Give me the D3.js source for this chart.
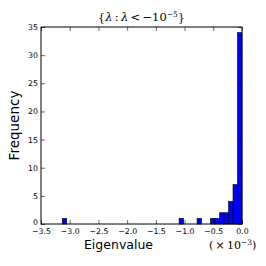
<!DOCTYPE html>
<html>
<head>
<meta charset="utf-8">
<script src="https://cdn.jsdelivr.net/npm/d3@7"></script>
<style>
  body { margin: 0; background: #fff; }
  text { font-family: "DejaVu Sans", sans-serif; }
  .math { font-family: "DejaVu Serif", "Liberation Serif", serif; }
</style>
</head>
<body>
<div class="chart"></div>
<script>
// histogram of eigenvalues (units of 1e-3), 40 bins over [lamMin, lamMax]
var lamMin = -3.13;
var lamMax = 0.0;
var nBins = 40;
var binIndex = [0, 26, 30, 33, 34, 35, 36, 37, 38, 39];
var binCount = [1, 1, 1, 1, 1, 2, 2, 4, 7, 34];

var xTicks = [-3.5, -3.0, -2.5, -2.0, -1.5, -1.0, -0.5, 0.0];
var yTicks = [0, 5, 10, 15, 20, 25, 30, 35];

var W = 266, H = 266;
var pL = 41, pR = 242, pT = 27, pB = 224;

var svg = d3.select('.chart')
            .append('svg')
            .attr('width', W)
            .attr('height', H);

var x = d3.scaleLinear().domain([-3.5, 0]).range([pL, pR]);
var y = d3.scaleLinear().domain([0, 35]).range([pB, pT]);

var binW = (lamMax - lamMin) / nBins;

svg.append('g')
   .selectAll('rect')
   .data(binIndex)
   .enter()
   .append('rect')
   .attr('x', function(b) { return x(lamMin + b * binW); })
   .attr('width', function(b) { return x(lamMin + (b + 1) * binW) - x(lamMin + b * binW); })
   .attr('y', function(b, i) { return y(binCount[i]); })
   .attr('height', function(b, i) { return y(0) - y(binCount[i]); })
   .attr('fill', '#0000ff')
   .attr('stroke', '#000')
   .attr('stroke-width', 0.6);

var tickLen = 4;
var fmt = function(d) { return d.toFixed(1).replace('-', '\u2212'); };

// bottom + top ticks
svg.append('g')
   .attr('transform', 'translate(0,' + pB + ')')
   .call(d3.axisBottom(x).tickValues(xTicks).tickSizeInner(-tickLen).tickSizeOuter(0).tickPadding(4).tickFormat(fmt))
   .call(function(g) {
     g.select('.domain').remove();
     g.selectAll('text').attr('font-size', '7.8px').attr('fill', '#000').attr('font-family', '"DejaVu Sans", sans-serif');
   });
svg.append('g')
   .attr('transform', 'translate(0,' + pT + ')')
   .call(d3.axisTop(x).tickValues(xTicks).tickSizeInner(-tickLen).tickSizeOuter(0).tickFormat(''))
   .call(function(g) { g.select('.domain').remove(); });

// left + right ticks
svg.append('g')
   .attr('transform', 'translate(' + pL + ',0)')
   .call(d3.axisLeft(y).tickValues(yTicks).tickSizeInner(-tickLen).tickSizeOuter(0).tickPadding(3))
   .call(function(g) {
     g.select('.domain').remove();
     g.selectAll('text').attr('font-size', '7.8px').attr('fill', '#000').attr('font-family', '"DejaVu Sans", sans-serif');
     g.selectAll('.tick').filter(function(d) { return d === 0; }).select('text').attr('dy', '0.1em');
   });
svg.append('g')
   .attr('transform', 'translate(' + pR + ',0)')
   .call(d3.axisRight(y).tickValues(yTicks).tickSizeInner(-tickLen).tickSizeOuter(0).tickFormat(''))
   .call(function(g) { g.select('.domain').remove(); });

svg.append('rect')
   .attr('x', pL).attr('y', pT)
   .attr('width', pR - pL).attr('height', pB - pT)
   .attr('fill', 'none')
   .attr('stroke', '#000')
   .attr('stroke-width', 1);

svg.selectAll('.tick line').attr('stroke', '#000').attr('stroke-width', 0.6);

// labels
svg.append('text')
   .text('Frequency')
   .attr('transform', 'translate(19,' + ((pT + pB) / 2) + ') rotate(-90)')
   .attr('text-anchor', 'middle')
   .attr('font-size', '13.5px');

svg.append('text')
   .text('Eigenvalue')
   .attr('x', 118.5)
   .attr('y', 249)
   .attr('text-anchor', 'middle')
   .attr('font-size', '12.5px');

// offset text (x 10^-3)
var off = svg.append('text')
   .attr('class', 'math')
   .attr('x', 209)
   .attr('y', 249)
   .attr('font-size', '11px');
off.append('tspan').text('(\u2009\u00d7\u200910');
off.append('tspan').text('\u22123').attr('dy', -4.5).attr('font-size', '7.5px');
off.append('tspan').text(')').attr('dy', 4.5);

// title {λ : λ < −10^-5}
var title = svg.append('text')
   .attr('class', 'math')
   .attr('x', (pL + pR) / 2)
   .attr('y', 21)
   .attr('text-anchor', 'middle')
   .attr('font-size', '11.5px');
title.append('tspan').text('{');
title.append('tspan').text('\u03bb').attr('font-style', 'italic');
title.append('tspan').text('\u2009:\u2009');
title.append('tspan').text('\u03bb').attr('font-style', 'italic');
title.append('tspan').text('\u2009<\u2009\u221210');
title.append('tspan').text('\u22125').attr('dy', -4.5).attr('font-size', '7.5px');
title.append('tspan').text('}').attr('dy', 4.5);
</script>
</body>
</html>
